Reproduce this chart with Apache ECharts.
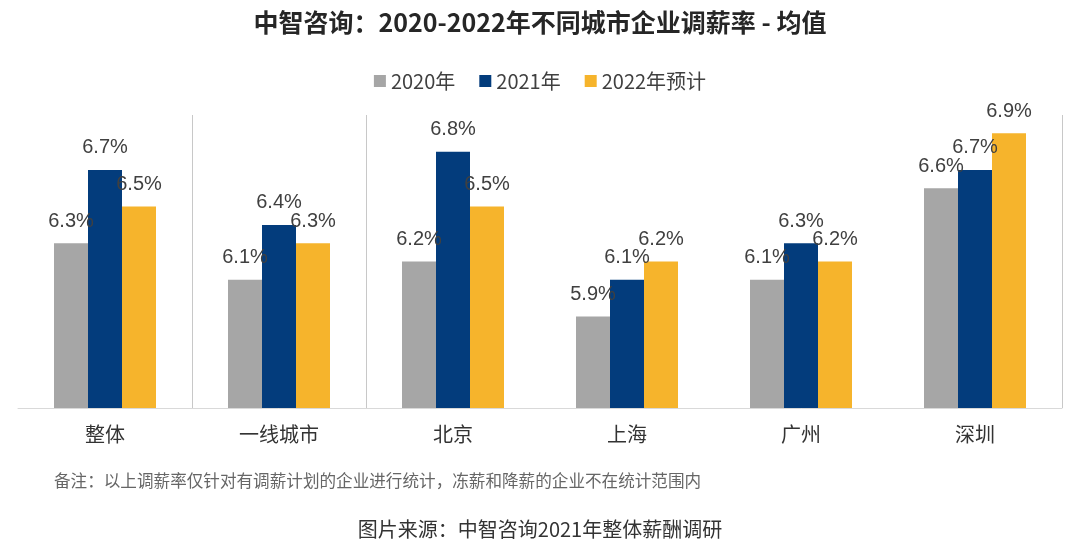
<!DOCTYPE html>
<html>
<head>
<meta charset="utf-8">
<script src="https://cdn.jsdelivr.net/npm/echarts@6/dist/echarts.min.js"></script>
<style>
html,body{margin:0;padding:0;background:#fff;}
#c{width:1080px;height:552px;}
</style>
</head>
<body>
<div id="c"></div>
<script>
const categories = ['整体', '一线城市', '北京', '上海', '广州', '深圳'];
const seriesNames = ['2020年', '2021年', '2022年预计'];
const v2020 = [6.3, 6.1, 6.2, 5.9, 6.1, 6.6];
const v2021 = [6.7, 6.4, 6.8, 6.1, 6.3, 6.7];
const v2022 = [6.5, 6.3, 6.5, 6.2, 6.2, 6.9];
const titleText = '中智咨询：2020-2022年不同城市企业调薪率 - 均值';
const noteText = '备注：以上调薪率仅针对有调薪计划的企业进行统计，冻薪和降薪的企业不在统计范围内';
const sourceText = '图片来源：中智咨询2021年整体薪酬调研';

const colors = ['#A6A6A6', '#033C7C', '#F6B42C'];
const FONT = '"Noto Sans CJK SC", "Noto Sans", sans-serif';

const chart = echarts.init(document.getElementById('c'));
function mk(name, data, color) {
  return {
    name: name,
    type: 'bar',
    data: data,
    barWidth: 34,
    barGap: '0%',
    itemStyle: { color: color },
    label: {
      show: true,
      position: 'top',
      distance: 12,
      formatter: p => p.value.toFixed(1) + '%',
      color: '#404040',
      fontSize: 20,
      fontFamily: '"Liberation Sans", "Noto Sans", sans-serif'
    }
  };
}
chart.setOption({
  backgroundColor: '#ffffff',
  textStyle: { fontFamily: FONT },
  title: [
    { text: titleText, left: 'center', top: 5,
      textStyle: { fontSize: 25, fontWeight: 'bold', color: '#262626', fontFamily: FONT } },
    { text: noteText, left: 49, top: 467,
      textStyle: { fontSize: 16.6, fontWeight: 'normal', color: '#666666', fontFamily: FONT } },
    { text: sourceText, left: 'center', top: 514,
      textStyle: { fontSize: 20, fontWeight: 'normal', color: '#333333', fontFamily: FONT } }
  ],
  legend: {
    data: seriesNames,
    top: 66,
    left: 'center',
    icon: 'rect',
    itemWidth: 12,
    itemHeight: 12,
    itemGap: 24,
    textStyle: { fontSize: 20, color: '#404040', fontFamily: FONT }
  },
  grid: { left: 18, right: 18, top: 115, bottom: 144 },
  xAxis: {
    type: 'category',
    data: categories,
    boundaryGap: true,
    axisLine: { lineStyle: { color: '#d9d9d9', width: 1 } },
    axisTick: { show: false },
    axisLabel: { fontSize: 20, color: '#333333', margin: 16, fontFamily: FONT },
    splitLine: {
      show: true,
      interval: function (index) { return index === 1 || index === 2; },
      lineStyle: { color: '#c8c8c8', width: 1 }
    }
  },
  yAxis: {
    type: 'value',
    min: 5.4,
    max: 7.0,
    show: false,
    splitLine: { show: false }
  },
  series: [
    mk(seriesNames[0], v2020, colors[0]),
    mk(seriesNames[1], v2021, colors[1]),
    mk(seriesNames[2], v2022, colors[2])
  ]
});
</script>
</body>
</html>
